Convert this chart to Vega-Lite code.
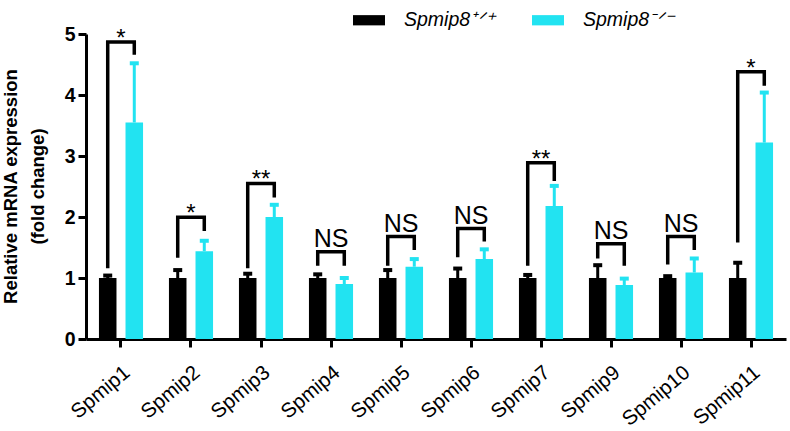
{
  "$schema": "https://vega.github.io/schema/vega-lite/v6.json",
  "width": 700,
  "height": 305,
  "autosize": {"type": "none"},
  "padding": {"left": 86, "top": 34, "right": 4, "bottom": 92},
  "background": "white",
  "config": {
    "view": {"stroke": null},
    "font": "Liberation Sans",
    "axis": {"domainColor": "black", "domainWidth": 3, "tickColor": "black", "tickWidth": 3, "tickSize": 8, "grid": false, "labelColor": "black", "titleColor": "black", "labelFont": "Liberation Sans", "titleFont": "Liberation Sans"},
    "axisX": {"labelAngle": -40, "labelAlign": "right", "labelBaseline": "top", "labelFontSize": 20.5, "labelFontStyle": "normal", "labelPadding": 15, "tickSize": 8},
    "axisY": {"titleFontSize": 18.5, "titleFontWeight": "bold", "titleLineHeight": 27, "titleX": -85, "titleY": 152, "titleAngle": -90, "titleAlign": "center", "titleBaseline": "top", "labelFontSize": 19.5, "labelFontWeight": "bold", "labelPadding": 3, "tickSize": 8}
  },
  "datasets": {
    "bars": [
      {"gene": "Spmip1", "group": "Spmip8⁺ᐟ⁺", "mean": 1.0, "upper": 1.04},
      {"gene": "Spmip1", "group": "Spmip8⁻ᐟ⁻", "mean": 3.55, "upper": 4.52},
      {"gene": "Spmip2", "group": "Spmip8⁺ᐟ⁺", "mean": 1.0, "upper": 1.13},
      {"gene": "Spmip2", "group": "Spmip8⁻ᐟ⁻", "mean": 1.44, "upper": 1.61},
      {"gene": "Spmip3", "group": "Spmip8⁺ᐟ⁺", "mean": 1.0, "upper": 1.07},
      {"gene": "Spmip3", "group": "Spmip8⁻ᐟ⁻", "mean": 2.0, "upper": 2.2},
      {"gene": "Spmip4", "group": "Spmip8⁺ᐟ⁺", "mean": 1.0, "upper": 1.06},
      {"gene": "Spmip4", "group": "Spmip8⁻ᐟ⁻", "mean": 0.9, "upper": 1.0},
      {"gene": "Spmip5", "group": "Spmip8⁺ᐟ⁺", "mean": 1.0, "upper": 1.13},
      {"gene": "Spmip5", "group": "Spmip8⁻ᐟ⁻", "mean": 1.185, "upper": 1.31},
      {"gene": "Spmip6", "group": "Spmip8⁺ᐟ⁺", "mean": 1.0, "upper": 1.155},
      {"gene": "Spmip6", "group": "Spmip8⁻ᐟ⁻", "mean": 1.31, "upper": 1.47},
      {"gene": "Spmip7", "group": "Spmip8⁺ᐟ⁺", "mean": 1.0, "upper": 1.05},
      {"gene": "Spmip7", "group": "Spmip8⁻ᐟ⁻", "mean": 2.18, "upper": 2.51},
      {"gene": "Spmip9", "group": "Spmip8⁺ᐟ⁺", "mean": 1.0, "upper": 1.21},
      {"gene": "Spmip9", "group": "Spmip8⁻ᐟ⁻", "mean": 0.885, "upper": 0.99},
      {"gene": "Spmip10", "group": "Spmip8⁺ᐟ⁺", "mean": 1.0, "upper": 1.03},
      {"gene": "Spmip10", "group": "Spmip8⁻ᐟ⁻", "mean": 1.09, "upper": 1.32},
      {"gene": "Spmip11", "group": "Spmip8⁺ᐟ⁺", "mean": 1.0, "upper": 1.25},
      {"gene": "Spmip11", "group": "Spmip8⁻ᐟ⁻", "mean": 3.22, "upper": 4.04}
    ],
    "brk": [
      {"gene": "Spmip1", "group": "Spmip8⁺ᐟ⁺", "o": 1, "v": 1.16},
      {"gene": "Spmip1", "group": "Spmip8⁺ᐟ⁺", "o": 2, "v": 4.87},
      {"gene": "Spmip1", "group": "Spmip8⁻ᐟ⁻", "o": 3, "v": 4.87},
      {"gene": "Spmip1", "group": "Spmip8⁻ᐟ⁻", "o": 4, "v": 4.66},
      {"gene": "Spmip2", "group": "Spmip8⁺ᐟ⁺", "o": 1, "v": 1.33},
      {"gene": "Spmip2", "group": "Spmip8⁺ᐟ⁺", "o": 2, "v": 1.995},
      {"gene": "Spmip2", "group": "Spmip8⁻ᐟ⁻", "o": 3, "v": 1.995},
      {"gene": "Spmip2", "group": "Spmip8⁻ᐟ⁻", "o": 4, "v": 1.77},
      {"gene": "Spmip3", "group": "Spmip8⁺ᐟ⁺", "o": 1, "v": 1.16},
      {"gene": "Spmip3", "group": "Spmip8⁺ᐟ⁺", "o": 2, "v": 2.55},
      {"gene": "Spmip3", "group": "Spmip8⁻ᐟ⁻", "o": 3, "v": 2.55},
      {"gene": "Spmip3", "group": "Spmip8⁻ᐟ⁻", "o": 4, "v": 2.32},
      {"gene": "Spmip4", "group": "Spmip8⁺ᐟ⁺", "o": 1, "v": 1.2},
      {"gene": "Spmip4", "group": "Spmip8⁺ᐟ⁺", "o": 2, "v": 1.43},
      {"gene": "Spmip4", "group": "Spmip8⁻ᐟ⁻", "o": 3, "v": 1.43},
      {"gene": "Spmip4", "group": "Spmip8⁻ᐟ⁻", "o": 4, "v": 1.2},
      {"gene": "Spmip5", "group": "Spmip8⁺ᐟ⁺", "o": 1, "v": 1.2},
      {"gene": "Spmip5", "group": "Spmip8⁺ᐟ⁺", "o": 2, "v": 1.68},
      {"gene": "Spmip5", "group": "Spmip8⁻ᐟ⁻", "o": 3, "v": 1.68},
      {"gene": "Spmip5", "group": "Spmip8⁻ᐟ⁻", "o": 4, "v": 1.46},
      {"gene": "Spmip6", "group": "Spmip8⁺ᐟ⁺", "o": 1, "v": 1.34},
      {"gene": "Spmip6", "group": "Spmip8⁺ᐟ⁺", "o": 2, "v": 1.81},
      {"gene": "Spmip6", "group": "Spmip8⁻ᐟ⁻", "o": 3, "v": 1.81},
      {"gene": "Spmip6", "group": "Spmip8⁻ᐟ⁻", "o": 4, "v": 1.6},
      {"gene": "Spmip7", "group": "Spmip8⁺ᐟ⁺", "o": 1, "v": 1.2},
      {"gene": "Spmip7", "group": "Spmip8⁺ᐟ⁺", "o": 2, "v": 2.89},
      {"gene": "Spmip7", "group": "Spmip8⁻ᐟ⁻", "o": 3, "v": 2.89},
      {"gene": "Spmip7", "group": "Spmip8⁻ᐟ⁻", "o": 4, "v": 2.59},
      {"gene": "Spmip9", "group": "Spmip8⁺ᐟ⁺", "o": 1, "v": 1.32},
      {"gene": "Spmip9", "group": "Spmip8⁺ᐟ⁺", "o": 2, "v": 1.56},
      {"gene": "Spmip9", "group": "Spmip8⁻ᐟ⁻", "o": 3, "v": 1.56},
      {"gene": "Spmip9", "group": "Spmip8⁻ᐟ⁻", "o": 4, "v": 1.2},
      {"gene": "Spmip10", "group": "Spmip8⁺ᐟ⁺", "o": 1, "v": 1.22},
      {"gene": "Spmip10", "group": "Spmip8⁺ᐟ⁺", "o": 2, "v": 1.68},
      {"gene": "Spmip10", "group": "Spmip8⁻ᐟ⁻", "o": 3, "v": 1.68},
      {"gene": "Spmip10", "group": "Spmip8⁻ᐟ⁻", "o": 4, "v": 1.46},
      {"gene": "Spmip11", "group": "Spmip8⁺ᐟ⁺", "o": 1, "v": 1.58},
      {"gene": "Spmip11", "group": "Spmip8⁺ᐟ⁺", "o": 2, "v": 4.38},
      {"gene": "Spmip11", "group": "Spmip8⁻ᐟ⁻", "o": 3, "v": 4.38},
      {"gene": "Spmip11", "group": "Spmip8⁻ᐟ⁻", "o": 4, "v": 4.15}
    ],
    "stars": [
      {"gene": "Spmip1", "top": 4.87, "label": "*"},
      {"gene": "Spmip2", "top": 1.995, "label": "*"},
      {"gene": "Spmip3", "top": 2.55, "label": "**"},
      {"gene": "Spmip7", "top": 2.89, "label": "**"},
      {"gene": "Spmip11", "top": 4.38, "label": "*"}
    ],
    "ns": [
      {"gene": "Spmip4", "top": 1.43, "label": "NS"},
      {"gene": "Spmip5", "top": 1.68, "label": "NS"},
      {"gene": "Spmip6", "top": 1.81, "label": "NS"},
      {"gene": "Spmip9", "top": 1.56, "label": "NS"},
      {"gene": "Spmip10", "top": 1.68, "label": "NS"}
    ]
  },
  "encoding": {
    "x": {
      "field": "gene", "type": "nominal", "sort": null,
      "scale": {"domain": ["Spmip1","Spmip2","Spmip3","Spmip4","Spmip5","Spmip6","Spmip7","Spmip9","Spmip10","Spmip11"], "paddingInner": 0.37, "paddingOuter": 0.185},
      "axis": {"title": null}
    },
    "y": {
      "type": "quantitative",
      "scale": {"domain": [0, 5], "nice": false},
      "axis": {"values": [0,1,2,3,4,5], "format": "d", "title": ["Relative mRNA expression", "(fold change)"]}
    }
  },
  "layer": [
    {
      "data": {"name": "bars"},
      "mark": {"type": "bar"},
      "encoding": {
        "xOffset": {"field": "group", "type": "nominal", "scale": {"domain": ["Spmip8⁺ᐟ⁺", "Spmip8⁻ᐟ⁻"], "paddingInner": 0.34, "paddingOuter": 0}},
        "y": {"field": "mean", "type": "quantitative"},
        "color": {
          "field": "group", "type": "nominal",
          "scale": {"domain": ["Spmip8⁺ᐟ⁺", "Spmip8⁻ᐟ⁻"], "range": ["#000000", "#22E3F1"]},
          "legend": {"title": null, "orient": "none", "legendX": 267, "legendY": -30, "direction": "horizontal", "symbolType": "M-1,-0.32H1V0.32H-1Z", "symbolSize": 1024, "symbolStrokeWidth": 0, "symbolOpacity": 1, "labelFont": "Liberation Sans", "labelFontStyle": "italic", "labelFontSize": 19.5, "labelColor": "black", "labelOffset": 19, "columnPadding": 36, "padding": 0, "labelLimit": 300}
        }
      }
    },
    {
      "data": {"name": "bars"},
      "mark": {"type": "rule", "strokeWidth": 3},
      "encoding": {
        "xOffset": {"field": "group", "type": "nominal"},
        "y": {"field": "mean", "type": "quantitative"},
        "y2": {"field": "upper"},
        "color": {"field": "group", "type": "nominal"}
      }
    },
    {
      "data": {"name": "bars"},
      "mark": {"type": "tick", "size": 9, "thickness": 4, "opacity": 1},
      "encoding": {
        "xOffset": {"field": "group", "type": "nominal"},
        "y": {"field": "upper", "type": "quantitative"},
        "color": {"field": "group", "type": "nominal"}
      }
    },
    {
      "data": {"name": "brk"},
      "mark": {"type": "line", "color": "black", "strokeWidth": 3.5, "strokeJoin": "miter", "strokeCap": "butt"},
      "encoding": {
        "xOffset": {"field": "group", "type": "nominal"},
        "y": {"field": "v", "type": "quantitative"},
        "detail": {"field": "gene"},
        "order": {"field": "o", "type": "quantitative"}
      }
    },
    {
      "data": {"name": "stars"},
      "mark": {"type": "text", "baseline": "alphabetic", "align": "center", "fontSize": 24, "color": "black", "font": "Liberation Sans", "dy": 4},
      "encoding": {
        "y": {"field": "top", "type": "quantitative"},
        "text": {"field": "label"}
      }
    },
    {
      "data": {"name": "ns"},
      "mark": {"type": "text", "baseline": "alphabetic", "align": "center", "fontSize": 25, "color": "black", "font": "Liberation Sans", "dy": -5},
      "encoding": {
        "y": {"field": "top", "type": "quantitative"},
        "text": {"field": "label"}
      }
    }
  ]
}
